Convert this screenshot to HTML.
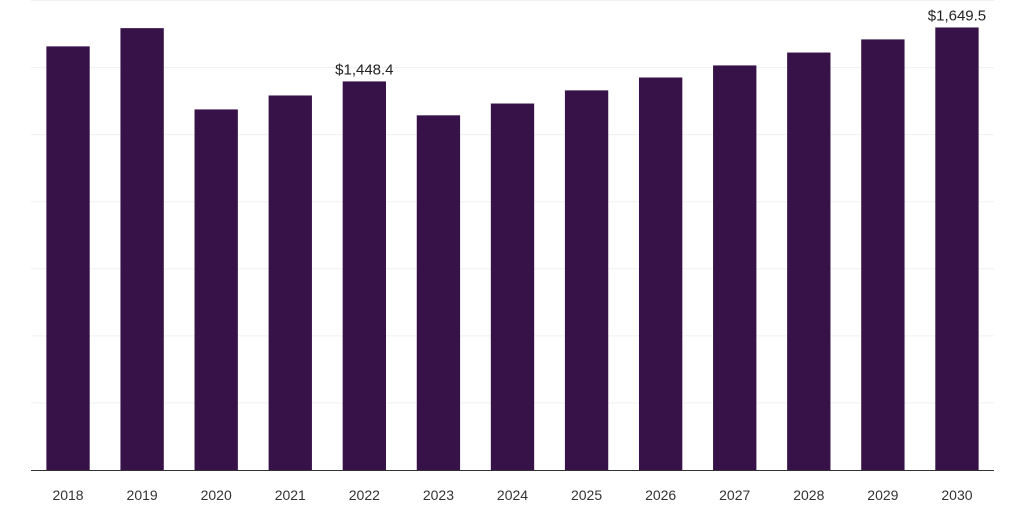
<!DOCTYPE html>
<html><head><meta charset="utf-8"><style>
body{margin:0;background:#fff;}
svg{display:block;font-family:"Liberation Sans",sans-serif;}
</style></head><body>
<svg id="chart" width="1024" height="512"></svg>
<script>
const categories=["2018","2019","2020","2021","2022","2023","2024","2025","2026","2027","2028","2029","2030"];
const values=[1579,1647,1344,1396,1448.4,1322,1366,1415,1463,1508,1556,1605,1649.5];
const valueLabels=["","","","","$1,448.4","","","","","","","","$1,649.5"];
const gridTicks=[0,250,500,750,1000,1250,1500,1750];
const NS="http://www.w3.org/2000/svg";
const svg=document.getElementById('chart');
const x0=31,x1=994,y0=470,yTop=0.5,yMax=1750;
const band=(x1-x0)/categories.length;
const bw=band*0.585;
function xs(i){return x0+band*i+band/2;}
function ys(v){return y0-(v/yMax)*(y0-yTop);}
function mk(t,a){const e=document.createElementNS(NS,t);for(const k in a)e.setAttribute(k,a[k]);svg.appendChild(e);return e;}
gridTicks.forEach(t=>{if(t===0)return;
 const l=mk('line',{x1:x0,x2:x1,y1:ys(t),y2:ys(t),stroke:'#f0f0f0','stroke-width':1});
 
 });
categories.forEach((c,i)=>{
 const r=mk('rect',{x:xs(i)-bw/2,y:ys(values[i]),width:bw,height:y0-ys(values[i]),fill:'#361249'});
 
 
 const t=mk('text',{x:xs(i),y:500,'text-anchor':'middle','font-size':14,fill:'#333'});
 t.textContent=c;
 
 
 if(valueLabels[i]){
  const v=mk('text',{x:xs(i),y:ys(values[i])-7,'text-anchor':'middle','font-size':15,fill:'#222'});
  v.textContent=valueLabels[i];
  
  
 }
});
const ax=mk('line',{x1:x0,x2:x1,y1:y0+0.5,y2:y0+0.5,stroke:'#333','stroke-width':1});


</script>
</body></html>
